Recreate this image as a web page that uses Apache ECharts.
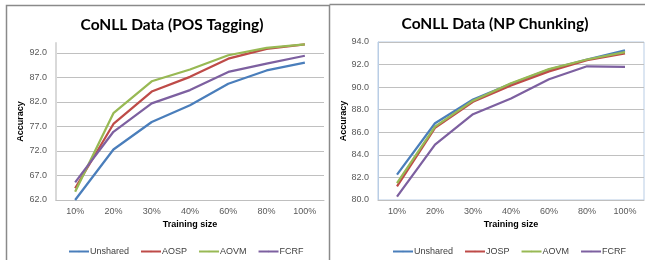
<!DOCTYPE html>
<html><head><meta charset="utf-8">
<script src="https://cdn.jsdelivr.net/npm/echarts@6/dist/echarts.min.js"></script>
<style>html,body{margin:0;padding:0;background:#fff}#c{width:645px;height:260px}</style>
</head><body><div id="c"></div>
<script>
const categories = ['10%','20%','30%','40%','60%','80%','100%'];
// Left: CoNLL POS Tagging
const posUnshared = [62.0, 72.3, 77.9, 81.3, 85.7, 88.4, 90.0];
const posAOSP     = [64.4, 77.5, 84.1, 87.1, 90.8, 92.8, 93.7];
const posAOVM     = [63.7, 79.7, 86.2, 88.6, 91.5, 93.0, 93.7];
const posFCRF     = [65.6, 75.9, 81.7, 84.4, 88.1, 89.8, 91.4];
// Right: CoNLL NP Chunking
const npUnshared = [82.25, 86.8, 88.9, 90.3, 91.55, 92.45, 93.25];
const npJOSP     = [81.2, 86.4, 88.7, 90.15, 91.4, 92.4, 93.0];
const npAOVM     = [81.5, 86.5, 88.8, 90.35, 91.6, 92.45, 93.1];
const npFCRF     = [80.3, 84.9, 87.6, 89.0, 90.7, 91.85, 91.8];
const leftNames = ['Unshared','AOSP','AOVM','FCRF'];
const rightNames = ['Unshared','JOSP','AOVM','FCRF'];
const colors = ['#4A7EBB','#BE4B48','#98B954','#7D60A0'];

const chart = echarts.init(document.getElementById('c'), null, {renderer:'canvas'});
const tickFont = {fontFamily:'Liberation Sans, Arial', fontSize:9, color:'#595959'};
const nameFont = {fontFamily:'Liberation Sans, Arial', fontSize:9, fontWeight:'bold', color:'#000'};
function mkSeries(name, data, idx, ci){
  return {type:'line', name, data, xAxisIndex:idx, yAxisIndex:idx, symbol:'none',
    lineStyle:{width:2.25, color:colors[ci]}, itemStyle:{color:colors[ci]}, animation:false, z:3};
}
chart.setOption({
  animation:false,
  title:[
    {text:'CoNLL Data (POS Tagging)', left:167, top:12, textAlign:'center',
     textStyle:{fontFamily:'Lato, Open Sans', fontSize:15.5, fontWeight:'bold', color:'#000'}},
    {text:'CoNLL Data (NP Chunking)', left:490, top:11, textAlign:'center',
     textStyle:{fontFamily:'Lato, Open Sans', fontSize:15.5, fontWeight:'bold', color:'#000'}}
  ],
  graphic:[
    {type:'polyline', shape:{points:[[6.5,270],[6.5,5.5],[329.5,5.5],[329.5,270]]}, style:{stroke:'#8a8a8a', lineWidth:1.5, fill:null}},
    {type:'polyline', shape:{points:[[329.5,4.5],[650,4.5]]}, style:{stroke:'#8a8a8a', lineWidth:1.5, fill:null}}
  ],
  legend:[
    {data:leftNames, left:63, top:242, itemWidth:20, itemHeight:2, itemGap:11,
     textStyle:{fontFamily:'Liberation Sans, Arial', fontSize:9, color:'#404040', padding:[0,0,0,-4]}},
    {data:rightNames, left:387, top:242, itemWidth:20, itemHeight:2, itemGap:11,
     textStyle:{fontFamily:'Liberation Sans, Arial', fontSize:9, color:'#404040', padding:[0,0,0,-4]}}
  ],
  grid:[
    {left:56, right:321, top:43, bottom:60, show:false},
    {left:378, right:1, top:42, bottom:60, show:true, borderColor:'#B9CDE5', borderWidth:1}
  ],
  xAxis:[
    {type:'category', gridIndex:0, data:categories, boundaryGap:true,
     axisLine:{lineStyle:{color:'#BFBFBF', width:1}}, axisTick:{show:false},
     axisLabel:Object.assign({margin:7}, tickFont),
     name:'Training size', nameLocation:'middle', nameGap:20, nameMoveOverlap:false, nameTextStyle:nameFont},
    {type:'category', gridIndex:1, data:categories, boundaryGap:true,
     axisLine:{lineStyle:{color:'#BFBFBF', width:1}}, axisTick:{show:false},
     axisLabel:Object.assign({margin:7}, tickFont),
     name:'Training size', nameLocation:'middle', nameGap:20, nameMoveOverlap:false, nameTextStyle:nameFont}
  ],
  yAxis:[
    {type:'value', gridIndex:0, min:62, max:94, interval:5,
     axisLine:{show:true, lineStyle:{color:'#D9D9D9', width:2}}, axisTick:{show:false},
     axisLabel:Object.assign({margin:9, showMaxLabel:false, formatter:v=>v.toFixed(1)}, tickFont),
     splitLine:{show:true, showMaxLine:false, lineStyle:{color:'#C0C0C0', width:1}},
     name:'Accuracy', nameLocation:'middle', nameRotate:90, nameGap:31, nameMoveOverlap:false, nameTextStyle:nameFont},
    {type:'value', gridIndex:1, min:80, max:94, interval:2,
     axisLine:{show:true, lineStyle:{color:'#B9CDE5', width:1}}, axisTick:{show:false},
     axisLabel:Object.assign({margin:9, formatter:v=>v.toFixed(1)}, tickFont),
     splitLine:{show:true, lineStyle:{color:'#C0C0C0', width:1}},
     name:'Accuracy', nameLocation:'middle', nameRotate:90, nameGap:30, nameMoveOverlap:false, nameTextStyle:nameFont}
  ],
  series:[
    mkSeries('Unshared', posUnshared, 0, 0),
    mkSeries('AOSP', posAOSP, 0, 1),
    mkSeries('AOVM', posAOVM, 0, 2),
    mkSeries('FCRF', posFCRF, 0, 3),
    mkSeries('Unshared', npUnshared, 1, 0),
    mkSeries('JOSP', npJOSP, 1, 1),
    mkSeries('AOVM', npAOVM, 1, 2),
    mkSeries('FCRF', npFCRF, 1, 3)
  ]
});
</script></body></html>
